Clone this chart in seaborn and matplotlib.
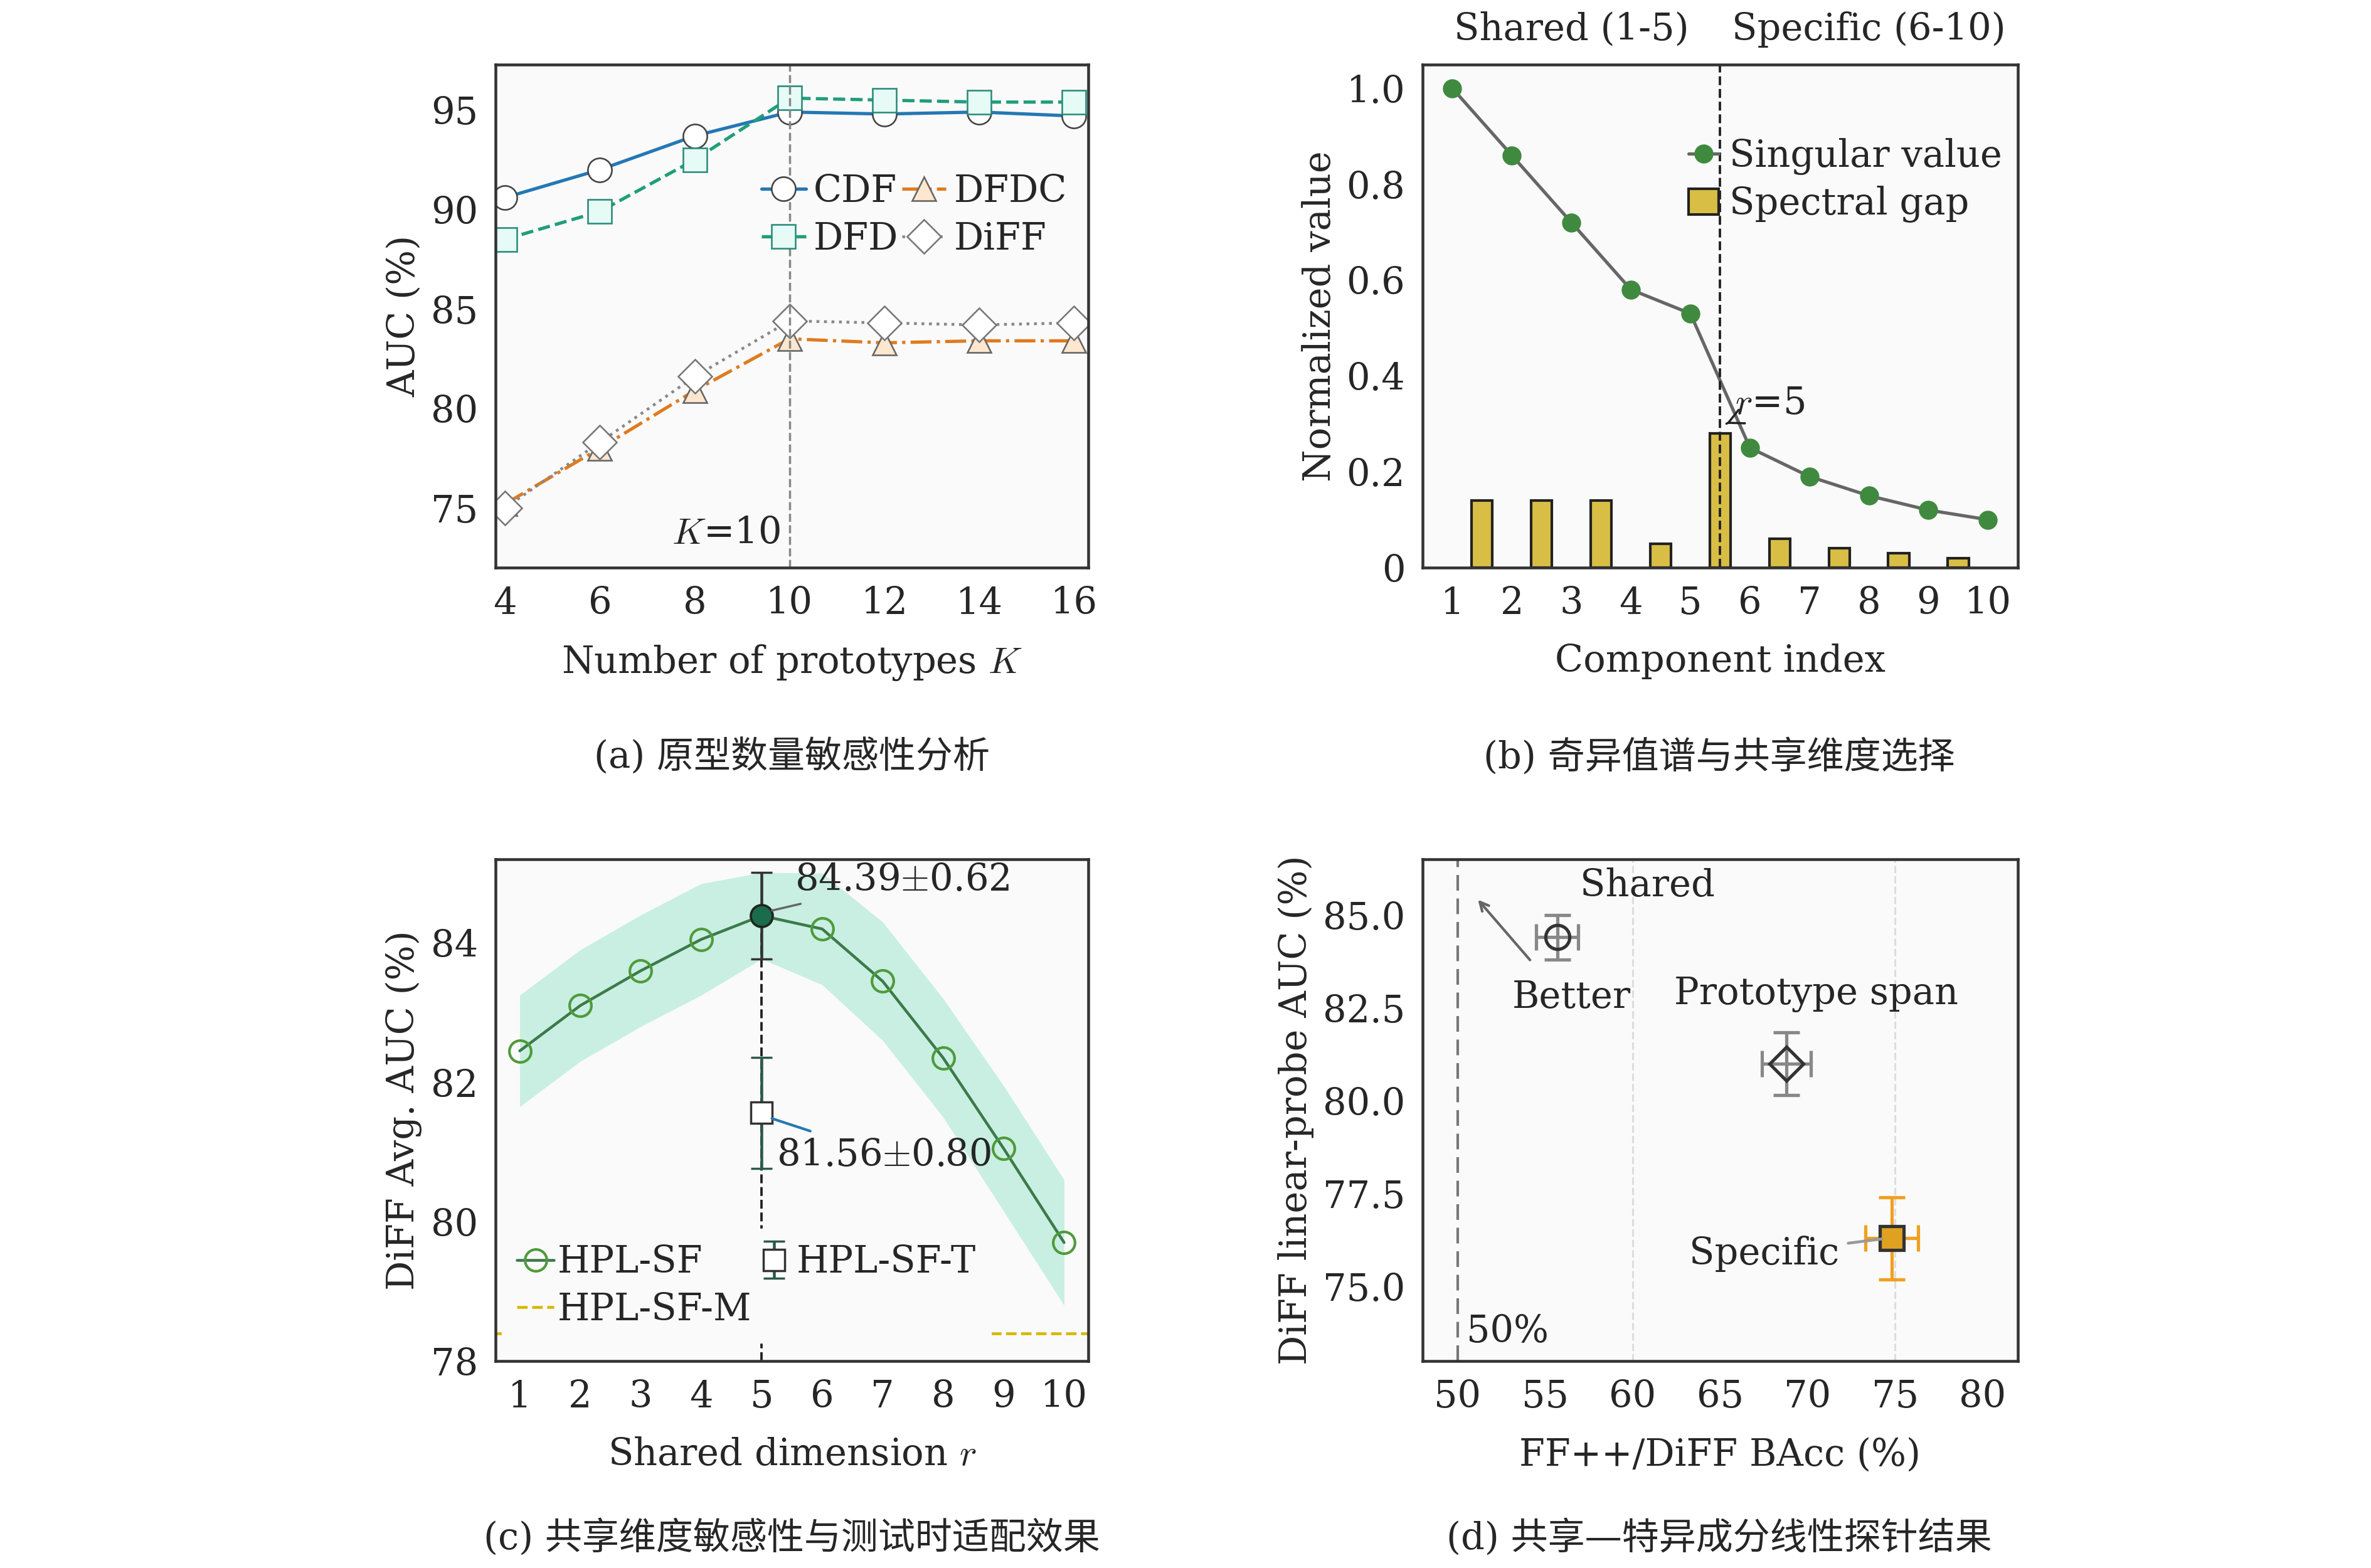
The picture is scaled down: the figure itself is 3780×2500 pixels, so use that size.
import matplotlib.pyplot as plt
import numpy as np
import seaborn as sns

sns.set_style('white')
plt.rcParams['font.family'] = ['DejaVu Serif', 'Noto Sans CJK SC']
plt.rcParams['mathtext.fontset'] = 'cm'
plt.rcParams['axes.unicode_minus'] = False

# (a) prototypes
k_vals = [4, 6, 8, 10, 12, 14, 16]
auc_cdf = [90.6, 92.0, 93.7, 94.9, 94.8, 94.9, 94.7]
auc_dfd = [88.5, 89.9, 92.5, 95.6, 95.5, 95.4, 95.4]
auc_dfdc = [75.2, 78.0, 80.9, 83.5, 83.3, 83.4, 83.4]
auc_diff = [75.0, 78.3, 81.6, 84.4, 84.3, 84.2, 84.3]

# (b) spectrum
comp_idx = [1, 2, 3, 4, 5, 6, 7, 8, 9, 10]
singular = [1.0, 0.86, 0.72, 0.58, 0.53, 0.25, 0.19, 0.15, 0.12, 0.10]
gap_pos = [1.5, 2.5, 3.5, 4.5, 5.5, 6.5, 7.5, 8.5, 9.5]
gap_vals = [0.14, 0.14, 0.14, 0.05, 0.28, 0.06, 0.04, 0.03, 0.02]

# (c) shared dimension
r_vals = [1, 2, 3, 4, 5, 6, 7, 8, 9, 10]
hpl_sf = [82.45, 83.1, 83.6, 84.05, 84.39, 84.2, 83.45, 82.35, 81.05, 79.7]
hpl_sf_std = [0.8, 0.8, 0.8, 0.8, 0.62, 0.8, 0.85, 0.85, 0.9, 0.9]
hpl_sf_t = 81.56
hpl_sf_t_std = 0.80
hpl_sf_m = 78.4

# (d) linear probe
probe_names = ['Shared', 'Prototype span', 'Specific']
probe_bacc = [55.7, 68.8, 74.8]
probe_bacc_err = [1.2, 1.4, 1.5]
probe_auc = [84.4, 81.0, 76.3]
probe_auc_err = [0.6, 0.85, 1.1]

fig = plt.figure(figsize=(15.12, 10), dpi=250)
bg = '#fafafa'
fs = 17

def style(ax):
    ax.set_facecolor(bg)
    for s in ax.spines.values():
        s.set_color('#333333')
        s.set_linewidth(1.3)
    ax.tick_params(direction='in', length=5, labelsize=fs, width=1.1, pad=8)

# ---- (a)
ax = fig.add_axes([0.209, 0.638, 0.25, 0.321])
style(ax)
sns.lineplot(x=k_vals, y=auc_cdf, ax=ax, color='#2478b4', marker='o', ms=11,
             mfc='white', mec='#444444', lw=1.5, label='CDF')
sns.lineplot(x=k_vals, y=auc_dfd, ax=ax, color='#1f9e7a', marker='s', ms=11,
             mfc='#e6fbf6', mec='#2a8c7a', lw=1.5, ls='--', label='DFD')
sns.lineplot(x=k_vals, y=auc_dfdc, ax=ax, color='#e07b20', marker='^', ms=11,
             mfc='#fde7cf', mec='#666666', lw=1.5, ls='-.', label='DFDC')
sns.lineplot(x=k_vals, y=auc_diff, ax=ax, color='#888888', marker='D', ms=11,
             mfc='white', mec='#777777', lw=1.3, ls=':', label='DiFF')
ax.axvline(10, color='#888888', ls='--', lw=1)
ax.text(9.8, 73.2, '$K$=10', ha='right', fontsize=fs)
ax.set_xlim(3.8, 16.3)
ax.set_ylim(72.0, 97.3)
ax.set_xticks(k_vals)
ax.set_yticks([75, 80, 85, 90, 95])
ax.set_xlabel('Number of prototypes $K$', fontsize=fs, labelpad=10)
ax.set_ylabel('AUC (%)', fontsize=fs)
ax.legend(loc='upper right', bbox_to_anchor=(1.02, 0.85), ncol=2, frameon=False,
          fontsize=fs, handlelength=1.2, handletextpad=0.2, columnspacing=0.1,
          labelspacing=0.3)
fig.text(0.334, 0.51, '(a) 原型数量敏感性分析', ha='center', fontsize=fs)

# ---- (b)
ax = fig.add_axes([0.6, 0.638, 0.251, 0.321])
style(ax)
ax.bar(gap_pos, gap_vals, width=0.35, color='#d9be45', edgecolor='#222222',
       lw=1.2, label='Spectral gap')
sns.lineplot(x=comp_idx, y=singular, ax=ax, color='#666666', marker='o', ms=8,
             mfc='#3f8a3f', mec='#3f8a3f', lw=1.5, label='Singular value')
ax.axvline(5.5, color='#222222', ls='--', lw=1.1)
ax.annotate('$r$=5', xy=(5.6, 0.3), xytext=(5.75, 0.32), fontsize=fs,
            arrowprops=dict(arrowstyle='->', color='#222222', lw=1))
ax.set_xlim(0.5, 10.5)
ax.set_ylim(0, 1.05)
ax.set_xticks(comp_idx)
ax.set_yticks([0, 0.2, 0.4, 0.6, 0.8, 1.0])
ax.set_yticklabels(['0', '0.2', '0.4', '0.6', '0.8', '1.0'])
ax.set_xlabel('Component index', fontsize=fs, labelpad=10)
ax.set_ylabel('Normalized value', fontsize=fs)
h, l = ax.get_legend_handles_labels()
order = [l.index('Singular value'), l.index('Spectral gap')]
ax.legend([h[i] for i in order], [l[i] for i in order], loc='upper right',
          bbox_to_anchor=(1.03, 0.92), frameon=False, fontsize=fs,
          handlelength=0.8, handletextpad=0.3, labelspacing=0.3)
ax.text(3.0, 1.1, 'Shared (1-5)', ha='center', fontsize=fs)
ax.text(8.0, 1.1, 'Specific (6-10)', ha='center', fontsize=fs)
fig.text(0.725, 0.51, '(b) 奇异值谱与共享维度选择', ha='center', fontsize=fs)

# ---- (c)
ax = fig.add_axes([0.209, 0.132, 0.25, 0.32])
style(ax)
lo = np.array(hpl_sf) - np.array(hpl_sf_std)
hi = np.array(hpl_sf) + np.array(hpl_sf_std)
ax.fill_between(r_vals, lo, hi, color='#9fe6cf', alpha=0.55, lw=0)
ax.axhline(hpl_sf_m, color='#d4b800', ls='--', lw=1.3, label='HPL-SF-M')
sns.lineplot(x=r_vals, y=hpl_sf, ax=ax, color='#3c7a4a', marker='o', ms=10,
             mfc='none', mec='#4f9a3a', mew=1.2, lw=1.3, label='HPL-SF')
ax.axvline(5, ymax=0.86, color='#222222', ls='--', lw=1.1)
ax.errorbar([5], [hpl_sf[4]], yerr=[hpl_sf_std[4]], fmt='o', ms=10,
            color='#1b6b4f', mec='#222222', ecolor='#333333', capsize=5, lw=1.3)
ax.errorbar([5], [hpl_sf_t], yerr=[hpl_sf_t_std], fmt='s', ms=10, mfc='white',
            mec='#333333', ecolor='#2a5a4a', capsize=5, lw=1.3, label='HPL-SF-T')
ax.annotate('84.39$\\pm$0.62', xy=(5.1, 84.45), xytext=(5.55, 84.75), fontsize=fs,
            arrowprops=dict(arrowstyle='-', color='#666666', lw=1))
ax.annotate('81.56$\\pm$0.80', xy=(5.1, 81.5), xytext=(5.25, 80.8), fontsize=fs,
            arrowprops=dict(arrowstyle='-', color='#2478b4', lw=1.2))
ax.set_xlim(0.6, 10.4)
ax.set_ylim(78, 85.2)
ax.set_xticks(r_vals)
ax.set_yticks([78, 80, 82, 84])
ax.set_xlabel('Shared dimension $r$', fontsize=fs, labelpad=10)
ax.set_ylabel('DiFF Avg. AUC (%)', fontsize=fs)
h, l = ax.get_legend_handles_labels()
order = [l.index('HPL-SF'), l.index('HPL-SF-M'), l.index('HPL-SF-T')]
ax.legend([h[i] for i in order], [l[i] for i in order], loc='lower left',
          bbox_to_anchor=(-0.02, 0.0), ncol=2, frameon=True, facecolor=bg,
          edgecolor=bg, framealpha=1, fontsize=fs, handlelength=1.0,
          handletextpad=0.1, columnspacing=0.1, labelspacing=0.3)
fig.text(0.334, 0.012, '(c) 共享维度敏感性与测试时适配效果', ha='center', fontsize=fs)

# ---- (d)
ax = fig.add_axes([0.6, 0.132, 0.251, 0.32])
style(ax)
for xv in [60, 75]:
    ax.axvline(xv, color='#dddddd', ls='--', lw=0.9)
ax.axvline(50, color='#777777', ls=(0, (6, 3)), lw=1.2)
marks = ['o', 'D', 's']
fcs = ['none', 'none', '#e0a020']
ecs = ['#888888', '#888888', '#f0a020']
for i in range(len(probe_names)):
    ax.errorbar(probe_bacc[i], probe_auc[i], xerr=probe_bacc_err[i],
                yerr=probe_auc_err[i], fmt=marks[i], ms=11, mfc=fcs[i],
                mec='#333333', mew=1.5, ecolor=ecs[i], capsize=6, lw=1.5)
ax.text(57, 85.5, 'Shared', ha='left', fontsize=fs)
ax.text(70.5, 82.6, 'Prototype span', ha='center', fontsize=fs)
ax.annotate('Specific', xy=(74.5, 76.3), xytext=(71.8, 75.6), ha='right',
            fontsize=fs, arrowprops=dict(arrowstyle='-', color='#999999', lw=1.3))
ax.annotate('', xy=(51, 85.5), xytext=(54.3, 83.7),
            arrowprops=dict(arrowstyle='->', color='#666666', lw=1.2))
ax.text(56.5, 82.5, 'Better', ha='center', fontsize=fs)
ax.text(50.5, 73.5, '50%', fontsize=fs)
ax.set_xlim(48, 82)
ax.set_ylim(73, 86.5)
ax.set_xticks([50, 55, 60, 65, 70, 75, 80])
ax.set_yticks([75.0, 77.5, 80.0, 82.5, 85.0])
ax.set_yticklabels(['75.0', '77.5', '80.0', '82.5', '85.0'])
ax.set_xlabel('FF++/DiFF BAcc (%)', fontsize=fs, labelpad=10)
ax.set_ylabel('DiFF linear-probe AUC (%)', fontsize=fs)
fig.text(0.725, 0.012, '(d) 共享—特异成分线性探针结果', ha='center', fontsize=fs)

fig.savefig('out.png', dpi=250, facecolor='white')
